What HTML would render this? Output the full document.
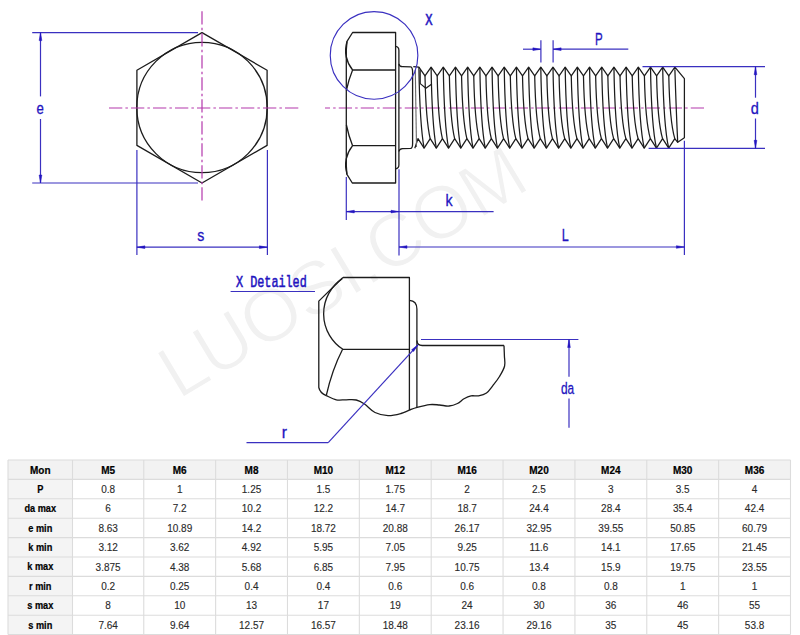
<!DOCTYPE html>
<html><head><meta charset="utf-8"><style>
html,body{margin:0;padding:0;background:#fff;width:800px;height:635px;overflow:hidden}
svg{display:block;font-family:"Liberation Sans",sans-serif}
</style></head><body>
<svg width="800" height="635" viewBox="0 0 800 635">
<rect width="800" height="635" fill="#fff"/>
<g transform="translate(178.5 400.3) rotate(-31)" font-family="Liberation Sans" font-size="75" letter-spacing="-1"><text x="0" y="0" fill="#000" fill-opacity="0.055">LUOSI.COM</text><text x="0" y="0" fill="none" stroke="#fff" stroke-width="1.3">LUOSI.COM</text></g>
<path d="M202.00,32.60 L267.10,70.20 L267.10,145.40 L202.00,183.00 L136.90,145.40 L136.90,70.20 Z" stroke="#1c1c1c" stroke-width="1.3" fill="none" stroke-linejoin="round" />
<circle cx="202.0" cy="107.5" r="65.2" stroke="#1c1c1c" stroke-width="1.3" fill="none"/>
<line x1="202.00" y1="11.30" x2="202.00" y2="202.00" stroke="#b438ac" stroke-width="1.2" stroke-dasharray="13.3 3.1 2.5 3.1"/>
<line x1="109.00" y1="108.00" x2="299.50" y2="108.00" stroke="#b438ac" stroke-width="1.2" stroke-dasharray="13.3 3.1 2.5 3.1"/>
<line x1="32.20" y1="32.60" x2="198.00" y2="32.60" stroke="#3a30c0" stroke-width="1.2" />
<line x1="32.20" y1="183.00" x2="198.00" y2="183.00" stroke="#3a30c0" stroke-width="1.2" />
<line x1="40.50" y1="32.60" x2="40.50" y2="96.40" stroke="#3a30c0" stroke-width="1.2" />
<line x1="40.50" y1="119.00" x2="40.50" y2="183.00" stroke="#3a30c0" stroke-width="1.2" />
<path d="M40.50,32.60 L41.85,40.60 L39.15,40.60 Z" fill="#2214c0" stroke="#2214c0" stroke-width="0.5"/>
<path d="M40.50,183.00 L39.15,175.00 L41.85,175.00 Z" fill="#2214c0" stroke="#2214c0" stroke-width="0.5"/>
<text x="40.15" y="114.2" font-size="16.5" fill="#2214c0" stroke="#2214c0" stroke-width="0.3" text-anchor="middle" transform="translate(40.15 0) scale(0.8 1) translate(-40.15 0)">e</text>
<line x1="136.90" y1="150.00" x2="136.90" y2="255.00" stroke="#3a30c0" stroke-width="1.2" />
<line x1="267.40" y1="150.00" x2="267.40" y2="255.00" stroke="#3a30c0" stroke-width="1.2" />
<line x1="136.90" y1="247.20" x2="267.40" y2="247.20" stroke="#3a30c0" stroke-width="1.2" />
<path d="M136.90,247.20 L144.90,245.85 L144.90,248.55 Z" fill="#2214c0" stroke="#2214c0" stroke-width="0.5"/>
<path d="M267.40,247.20 L259.40,248.55 L259.40,245.85 Z" fill="#2214c0" stroke="#2214c0" stroke-width="0.5"/>
<text x="200.85" y="241.2" font-size="16.5" fill="#2214c0" stroke="#2214c0" stroke-width="0.3" text-anchor="middle" transform="translate(200.85 0) scale(0.86 1) translate(-200.85 0)">s</text>
<line x1="325.00" y1="108.00" x2="705.00" y2="108.00" stroke="#b438ac" stroke-width="1.2" stroke-dasharray="13.3 3.1 2.5 3.1" stroke-dashoffset="8.25"/>
<path d="M352.6,32.5 L395.6,32.5 L395.6,183 L352.3,183 L346.8,174.2 L346.3,165 L346.3,50 L347,41.4 Z" stroke="#1c1c1c" stroke-width="1.3" fill="none" stroke-linejoin="round" />
<path d="M347,41.4 A32,32 0 0 0 352.6,70 L395.6,70" stroke="#1c1c1c" stroke-width="1.3" fill="none" stroke-linejoin="round" />
<path d="M352.6,70 Q348.5,80 346.4,90.4" stroke="#1c1c1c" stroke-width="1.3" fill="none" stroke-linejoin="round" />
<path d="M352.6,145.7 Q348.5,135.5 346.4,125" stroke="#1c1c1c" stroke-width="1.3" fill="none" stroke-linejoin="round" />
<path d="M347,174.2 A32,32 0 0 1 352.6,145.7 L395.6,145.7" stroke="#1c1c1c" stroke-width="1.3" fill="none" stroke-linejoin="round" />
<path d="M395.6,46.3 Q398.9,46.6 398.9,50.5 L398.9,164.8 Q398.9,168.5 395.6,168.8" stroke="#1c1c1c" stroke-width="1.3" fill="none" stroke-linejoin="round" />
<path d="M398.9,63.8 Q399.4,66.6 402.5,66.6 L410.8,66.8 Q412.6,67.8 412.6,72 L412.6,143.5 Q412.6,148.3 410.6,148.4 L402.5,148.6 Q399.4,148.8 398.9,151.5" stroke="#1c1c1c" stroke-width="1.3" fill="none" stroke-linejoin="round" />
<path d="M413.3,66.6 L418.90,67.2 L425.00,75.9 L431.09,67.2 L437.19,75.9 L443.28,67.2 L449.38,75.9 L455.47,67.2 L461.56,75.9 L467.66,67.2 L473.75,75.9 L479.85,67.2 L485.94,75.9 L492.04,67.2 L498.13,75.9 L504.23,67.2 L510.32,75.9 L516.42,67.2 L522.51,75.9 L528.61,67.2 L534.71,75.9 L540.80,67.2 L546.89,75.9 L552.99,67.2 L559.09,75.9 L565.18,67.2 L571.27,75.9 L577.37,67.2 L583.47,75.9 L589.56,67.2 L595.65,75.9 L601.75,67.2 L607.85,75.9 L613.94,67.2 L620.03,75.9 L626.13,67.2 L632.23,75.9 L638.32,67.2 L644.41,75.9 L650.51,67.2 L656.61,75.9 L662.70,67.2 L668.79,75.9 L674.89,67.2 L684.4,78.7 L684.4,137.8 L677.7,142.3 L674.79,138.6 L668.70,148.2 L662.60,138.6 L656.47,148.2 L650.37,138.6 L644.24,148.2 L638.14,138.6 L632.01,148.2 L625.91,138.6 L619.78,148.2 L613.68,138.6 L607.55,148.2 L601.45,138.6 L595.32,148.2 L589.22,138.6 L583.09,148.2 L576.99,138.6 L570.86,148.2 L564.76,138.6 L558.63,148.2 L552.53,138.6 L546.40,148.2 L540.30,138.6 L534.17,148.2 L528.07,138.6 L521.94,148.2 L515.85,138.6 L509.71,148.2 L503.61,138.6 L497.48,148.2 L491.38,138.6 L485.25,148.2 L479.15,138.6 L473.02,148.2 L466.92,138.6 L460.79,148.2 L454.69,138.6 L448.56,148.2 L442.46,138.6 L436.33,148.2 L430.23,138.6 L424.10,148.2 L418.00,138.6 L414.8,148.3" stroke="#1c1c1c" stroke-width="1.25" fill="none" stroke-linejoin="round" />
<path d="M418.90,67.2 C419.40,100 421.20,132 424.10,148.2" stroke="#1c1c1c" stroke-width="1.25" fill="none" stroke-linejoin="round" />
<path d="M431.09,67.2 C431.59,100 433.39,132 436.33,148.2" stroke="#1c1c1c" stroke-width="1.25" fill="none" stroke-linejoin="round" />
<path d="M443.28,67.2 C443.78,100 445.58,132 448.56,148.2" stroke="#1c1c1c" stroke-width="1.25" fill="none" stroke-linejoin="round" />
<path d="M455.47,67.2 C455.97,100 457.77,132 460.79,148.2" stroke="#1c1c1c" stroke-width="1.25" fill="none" stroke-linejoin="round" />
<path d="M467.66,67.2 C468.16,100 469.96,132 473.02,148.2" stroke="#1c1c1c" stroke-width="1.25" fill="none" stroke-linejoin="round" />
<path d="M479.85,67.2 C480.35,100 482.15,132 485.25,148.2" stroke="#1c1c1c" stroke-width="1.25" fill="none" stroke-linejoin="round" />
<path d="M492.04,67.2 C492.54,100 494.34,132 497.48,148.2" stroke="#1c1c1c" stroke-width="1.25" fill="none" stroke-linejoin="round" />
<path d="M504.23,67.2 C504.73,100 506.53,132 509.71,148.2" stroke="#1c1c1c" stroke-width="1.25" fill="none" stroke-linejoin="round" />
<path d="M516.42,67.2 C516.92,100 518.72,132 521.94,148.2" stroke="#1c1c1c" stroke-width="1.25" fill="none" stroke-linejoin="round" />
<path d="M528.61,67.2 C529.11,100 530.91,132 534.17,148.2" stroke="#1c1c1c" stroke-width="1.25" fill="none" stroke-linejoin="round" />
<path d="M540.80,67.2 C541.30,100 543.10,132 546.40,148.2" stroke="#1c1c1c" stroke-width="1.25" fill="none" stroke-linejoin="round" />
<path d="M552.99,67.2 C553.49,100 555.29,132 558.63,148.2" stroke="#1c1c1c" stroke-width="1.25" fill="none" stroke-linejoin="round" />
<path d="M565.18,67.2 C565.68,100 567.48,132 570.86,148.2" stroke="#1c1c1c" stroke-width="1.25" fill="none" stroke-linejoin="round" />
<path d="M577.37,67.2 C577.87,100 579.67,132 583.09,148.2" stroke="#1c1c1c" stroke-width="1.25" fill="none" stroke-linejoin="round" />
<path d="M589.56,67.2 C590.06,100 591.86,132 595.32,148.2" stroke="#1c1c1c" stroke-width="1.25" fill="none" stroke-linejoin="round" />
<path d="M601.75,67.2 C602.25,100 604.05,132 607.55,148.2" stroke="#1c1c1c" stroke-width="1.25" fill="none" stroke-linejoin="round" />
<path d="M613.94,67.2 C614.44,100 616.24,132 619.78,148.2" stroke="#1c1c1c" stroke-width="1.25" fill="none" stroke-linejoin="round" />
<path d="M626.13,67.2 C626.63,100 628.43,132 632.01,148.2" stroke="#1c1c1c" stroke-width="1.25" fill="none" stroke-linejoin="round" />
<path d="M638.32,67.2 C638.82,100 640.62,132 644.24,148.2" stroke="#1c1c1c" stroke-width="1.25" fill="none" stroke-linejoin="round" />
<path d="M650.51,67.2 C651.01,100 652.81,132 656.47,148.2" stroke="#1c1c1c" stroke-width="1.25" fill="none" stroke-linejoin="round" />
<path d="M662.70,67.2 C663.20,100 665.00,132 668.70,148.2" stroke="#1c1c1c" stroke-width="1.25" fill="none" stroke-linejoin="round" />
<path d="M674.89,69.2 Q676.09,108 677.7,142.3" stroke="#1c1c1c" stroke-width="1.25" fill="none" stroke-linejoin="round" />
<path d="M425.00,75.9 C425.50,100 427.30,126 430.19,138.6" stroke="#1c1c1c" stroke-width="1.25" fill="none" stroke-linejoin="round" />
<path d="M437.19,75.9 C437.69,100 439.49,126 442.43,138.6" stroke="#1c1c1c" stroke-width="1.25" fill="none" stroke-linejoin="round" />
<path d="M449.38,75.9 C449.88,100 451.68,126 454.65,138.6" stroke="#1c1c1c" stroke-width="1.25" fill="none" stroke-linejoin="round" />
<path d="M461.56,75.9 C462.06,100 463.87,126 466.88,138.6" stroke="#1c1c1c" stroke-width="1.25" fill="none" stroke-linejoin="round" />
<path d="M473.75,75.9 C474.25,100 476.06,126 479.12,138.6" stroke="#1c1c1c" stroke-width="1.25" fill="none" stroke-linejoin="round" />
<path d="M485.94,75.9 C486.44,100 488.25,126 491.34,138.6" stroke="#1c1c1c" stroke-width="1.25" fill="none" stroke-linejoin="round" />
<path d="M498.13,75.9 C498.63,100 500.44,126 503.57,138.6" stroke="#1c1c1c" stroke-width="1.25" fill="none" stroke-linejoin="round" />
<path d="M510.32,75.9 C510.82,100 512.62,126 515.80,138.6" stroke="#1c1c1c" stroke-width="1.25" fill="none" stroke-linejoin="round" />
<path d="M522.51,75.9 C523.01,100 524.81,126 528.04,138.6" stroke="#1c1c1c" stroke-width="1.25" fill="none" stroke-linejoin="round" />
<path d="M534.71,75.9 C535.21,100 537.00,126 540.27,138.6" stroke="#1c1c1c" stroke-width="1.25" fill="none" stroke-linejoin="round" />
<path d="M546.89,75.9 C547.39,100 549.19,126 552.50,138.6" stroke="#1c1c1c" stroke-width="1.25" fill="none" stroke-linejoin="round" />
<path d="M559.09,75.9 C559.59,100 561.38,126 564.73,138.6" stroke="#1c1c1c" stroke-width="1.25" fill="none" stroke-linejoin="round" />
<path d="M571.27,75.9 C571.77,100 573.57,126 576.96,138.6" stroke="#1c1c1c" stroke-width="1.25" fill="none" stroke-linejoin="round" />
<path d="M583.47,75.9 C583.97,100 585.76,126 589.19,138.6" stroke="#1c1c1c" stroke-width="1.25" fill="none" stroke-linejoin="round" />
<path d="M595.65,75.9 C596.15,100 597.95,126 601.41,138.6" stroke="#1c1c1c" stroke-width="1.25" fill="none" stroke-linejoin="round" />
<path d="M607.85,75.9 C608.35,100 610.14,126 613.65,138.6" stroke="#1c1c1c" stroke-width="1.25" fill="none" stroke-linejoin="round" />
<path d="M620.03,75.9 C620.53,100 622.33,126 625.88,138.6" stroke="#1c1c1c" stroke-width="1.25" fill="none" stroke-linejoin="round" />
<path d="M632.23,75.9 C632.73,100 634.52,126 638.11,138.6" stroke="#1c1c1c" stroke-width="1.25" fill="none" stroke-linejoin="round" />
<path d="M644.41,75.9 C644.91,100 646.71,126 650.34,138.6" stroke="#1c1c1c" stroke-width="1.25" fill="none" stroke-linejoin="round" />
<path d="M656.61,75.9 C657.11,100 658.90,126 662.57,138.6" stroke="#1c1c1c" stroke-width="1.25" fill="none" stroke-linejoin="round" />
<path d="M668.79,75.9 C669.29,100 671.09,126 674.79,138.6" stroke="#1c1c1c" stroke-width="1.25" fill="none" stroke-linejoin="round" />
<path d="M415.3,70 L416.5,147" stroke="#666" stroke-width="1.1" fill="none" stroke-linejoin="round" />
<path d="M420.2,70 L420.2,83.6 L425.9,88.3 L431.8,83.9" stroke="#1c1c1c" stroke-width="1.2" fill="none" stroke-linejoin="round" />
<circle cx="374.05" cy="55.4" r="43.8" stroke="#3a30c0" stroke-width="1.15" fill="none"/>
<text x="429" y="24.8" font-size="17" fill="#2214c0" stroke="#2214c0" stroke-width="0.55" text-anchor="middle" font-family="Liberation Mono" transform="translate(429 0) scale(0.72 1) translate(-429 0)">X</text>
<line x1="523.00" y1="49.20" x2="540.90" y2="49.20" stroke="#3a30c0" stroke-width="1.2" />
<path d="M540.90,49.20 L532.90,50.55 L532.90,47.85 Z" fill="#2214c0" stroke="#2214c0" stroke-width="0.5"/>
<line x1="540.90" y1="40.30" x2="540.90" y2="62.60" stroke="#3a30c0" stroke-width="1.2" />
<line x1="553.10" y1="40.30" x2="553.10" y2="62.60" stroke="#3a30c0" stroke-width="1.2" />
<line x1="553.10" y1="49.20" x2="628.30" y2="49.20" stroke="#3a30c0" stroke-width="1.2" />
<path d="M553.10,49.20 L561.10,47.85 L561.10,50.55 Z" fill="#2214c0" stroke="#2214c0" stroke-width="0.5"/>
<text x="598.9" y="44.6" font-size="16.5" fill="#2214c0" stroke="#2214c0" stroke-width="0.3" text-anchor="middle" transform="translate(598.9 0) scale(0.7 1) translate(-598.9 0)">P</text>
<line x1="642.50" y1="66.70" x2="765.00" y2="66.70" stroke="#3a30c0" stroke-width="1.2" />
<line x1="648.60" y1="148.30" x2="765.00" y2="148.30" stroke="#3a30c0" stroke-width="1.2" />
<line x1="755.50" y1="66.70" x2="755.50" y2="97.70" stroke="#3a30c0" stroke-width="1.2" />
<line x1="755.50" y1="118.50" x2="755.50" y2="148.30" stroke="#3a30c0" stroke-width="1.2" />
<path d="M755.50,66.70 L756.85,74.70 L754.15,74.70 Z" fill="#2214c0" stroke="#2214c0" stroke-width="0.5"/>
<path d="M755.50,148.30 L754.15,140.30 L756.85,140.30 Z" fill="#2214c0" stroke="#2214c0" stroke-width="0.5"/>
<text x="754.9" y="114.1" font-size="16.5" fill="#2214c0" stroke="#2214c0" stroke-width="0.3" text-anchor="middle" transform="translate(754.9 0) scale(0.88 1) translate(-754.9 0)">d</text>
<line x1="346.30" y1="177.00" x2="346.30" y2="220.00" stroke="#3a30c0" stroke-width="1.2" />
<line x1="399.00" y1="169.30" x2="399.00" y2="255.50" stroke="#3a30c0" stroke-width="1.2" />
<line x1="346.30" y1="211.60" x2="493.60" y2="211.60" stroke="#3a30c0" stroke-width="1.2" />
<path d="M346.30,211.60 L354.30,210.25 L354.30,212.95 Z" fill="#2214c0" stroke="#2214c0" stroke-width="0.5"/>
<path d="M399.00,211.60 L391.00,212.95 L391.00,210.25 Z" fill="#2214c0" stroke="#2214c0" stroke-width="0.5"/>
<text x="449" y="205.9" font-size="16.5" fill="#2214c0" stroke="#2214c0" stroke-width="0.3" text-anchor="middle" transform="translate(449 0) scale(0.86 1) translate(-449 0)">k</text>
<line x1="684.40" y1="140.80" x2="684.40" y2="255.00" stroke="#3a30c0" stroke-width="1.2" />
<line x1="399.00" y1="247.00" x2="684.40" y2="247.00" stroke="#3a30c0" stroke-width="1.2" />
<path d="M399.00,247.00 L407.00,245.65 L407.00,248.35 Z" fill="#2214c0" stroke="#2214c0" stroke-width="0.5"/>
<path d="M684.40,247.00 L676.40,248.35 L676.40,245.65 Z" fill="#2214c0" stroke="#2214c0" stroke-width="0.5"/>
<text x="565.25" y="241.1" font-size="16.5" fill="#2214c0" stroke="#2214c0" stroke-width="0.3" text-anchor="middle" transform="translate(565.25 0) scale(0.76 1) translate(-565.25 0)">L</text>
<text x="236" y="287" font-size="17" fill="#2214c0" stroke="#2214c0" stroke-width="0.55" font-family="Liberation Mono" transform="translate(236 0) scale(0.694 1) translate(-236 0)">X Detailed</text>
<line x1="230.60" y1="291.50" x2="315.00" y2="291.50" stroke="#3a30c0" stroke-width="1.2" />
<path d="M342.9,277.5 L409.4,277.5 L409.4,410.1" stroke="#1c1c1c" stroke-width="1.3" fill="none" stroke-linejoin="round" />
<path d="M342.9,277.5 L318.8,301.1 L318.8,387.5 Q320,393 326.25,395.6" stroke="#1c1c1c" stroke-width="1.3" fill="none" stroke-linejoin="round" />
<path d="M342.2,278.6 A42.5,42.5 0 0 0 342.9,349.3 L409.4,349.3" stroke="#1c1c1c" stroke-width="1.3" fill="none" stroke-linejoin="round" />
<path d="M342.6,349.3 Q332,370 326.25,395.6" stroke="#1c1c1c" stroke-width="1.3" fill="none" stroke-linejoin="round" />
<path d="M409.4,300.3 Q416.9,300.8 416.9,309 L416.9,407.4" stroke="#1c1c1c" stroke-width="1.3" fill="none" stroke-linejoin="round" />
<path d="M416.9,340.5 Q417.2,345.5 422.2,345.5 L504,345.5" stroke="#1c1c1c" stroke-width="1.3" fill="none" stroke-linejoin="round" />
<path d="M504.00,345.50 C504.07,347.25 504.30,352.58 504.40,356.00 C504.50,359.42 505.42,362.58 504.60,366.00 C503.78,369.42 501.43,373.27 499.50,376.50 C497.57,379.73 495.17,382.65 493.00,385.40 C490.83,388.15 488.92,391.27 486.50,393.00 C484.08,394.73 481.08,395.32 478.50,395.80 C475.92,396.28 473.42,395.40 471.00,395.90 C468.58,396.40 466.25,397.53 464.00,398.80 C461.75,400.07 460.00,402.30 457.50,403.50 C455.00,404.70 452.00,405.75 449.00,406.00 C446.00,406.25 442.70,405.23 439.50,405.00 C436.30,404.77 433.53,404.20 429.80,404.60 C426.07,405.00 420.50,406.48 417.10,407.40 C413.70,408.32 412.08,409.08 409.40,410.10 C406.72,411.12 404.57,412.58 401.00,413.50 C397.43,414.42 392.33,415.77 388.00,415.60 C383.67,415.43 378.92,414.43 375.00,412.50 C371.08,410.57 367.62,406.08 364.50,404.00 C361.38,401.92 359.33,400.70 356.25,400.00 C353.17,399.30 349.33,399.83 346.00,399.80 C342.67,399.77 339.54,400.50 336.25,399.80 C332.96,399.10 327.92,396.30 326.25,395.60" stroke="#1c1c1c" stroke-width="1.3" fill="none" stroke-linejoin="round" />
<line x1="421.00" y1="339.50" x2="578.40" y2="339.50" stroke="#3a30c0" stroke-width="1.2" />
<line x1="569.00" y1="339.50" x2="569.00" y2="376.70" stroke="#3a30c0" stroke-width="1.2" />
<line x1="569.00" y1="398.40" x2="569.00" y2="427.70" stroke="#3a30c0" stroke-width="1.2" />
<path d="M569.00,339.50 L570.35,347.50 L567.65,347.50 Z" fill="#2214c0" stroke="#2214c0" stroke-width="0.5"/>
<text x="567.5" y="394.0" font-size="16.5" fill="#2214c0" stroke="#2214c0" stroke-width="0.3" text-anchor="middle" transform="translate(567.5 0) scale(0.72 1) translate(-567.5 0)">da</text>
<line x1="246.50" y1="442.70" x2="328.20" y2="442.70" stroke="#3a30c0" stroke-width="1.2" />
<line x1="328.20" y1="442.70" x2="418.00" y2="344.80" stroke="#3a30c0" stroke-width="1.2" />
<path d="M418.00,344.80 L413.59,351.61 L411.60,349.78 Z" fill="#2214c0" stroke="#2214c0" stroke-width="0.5"/>
<text x="284.4" y="438.5" font-size="16.5" fill="#2214c0" stroke="#2214c0" stroke-width="0.3" text-anchor="middle" transform="translate(284.4 0) scale(0.95 1) translate(-284.4 0)">r</text>
<rect x="8.0" y="460.0" width="782.5" height="174.60000000000002" fill="#ffffff"/>
<rect x="8.0" y="460.0" width="782.5" height="19.399999999999977" fill="#f2f2f2"/>
<rect x="8.0" y="479.4" width="64.5" height="155.20000000000005" fill="#f4f4f4"/>
<line x1="8.00" y1="460.0" x2="8.00" y2="634.60" stroke="#dcdcdc" stroke-width="1.1"/>
<line x1="72.50" y1="460.0" x2="72.50" y2="634.60" stroke="#dcdcdc" stroke-width="1.1"/>
<line x1="143.76" y1="460.0" x2="143.76" y2="634.60" stroke="#dcdcdc" stroke-width="1.1"/>
<line x1="215.62" y1="460.0" x2="215.62" y2="634.60" stroke="#dcdcdc" stroke-width="1.1"/>
<line x1="287.48" y1="460.0" x2="287.48" y2="634.60" stroke="#dcdcdc" stroke-width="1.1"/>
<line x1="359.34" y1="460.0" x2="359.34" y2="634.60" stroke="#dcdcdc" stroke-width="1.1"/>
<line x1="431.20" y1="460.0" x2="431.20" y2="634.60" stroke="#dcdcdc" stroke-width="1.1"/>
<line x1="503.06" y1="460.0" x2="503.06" y2="634.60" stroke="#dcdcdc" stroke-width="1.1"/>
<line x1="574.92" y1="460.0" x2="574.92" y2="634.60" stroke="#dcdcdc" stroke-width="1.1"/>
<line x1="646.78" y1="460.0" x2="646.78" y2="634.60" stroke="#dcdcdc" stroke-width="1.1"/>
<line x1="718.64" y1="460.0" x2="718.64" y2="634.60" stroke="#dcdcdc" stroke-width="1.1"/>
<line x1="790.50" y1="460.0" x2="790.50" y2="634.60" stroke="#dcdcdc" stroke-width="1.1"/>
<line x1="8.0" y1="460.00" x2="790.50" y2="460.00" stroke="#dcdcdc" stroke-width="1.1"/>
<line x1="8.0" y1="479.40" x2="790.50" y2="479.40" stroke="#dcdcdc" stroke-width="1.1"/>
<line x1="8.0" y1="498.80" x2="790.50" y2="498.80" stroke="#dcdcdc" stroke-width="1.1"/>
<line x1="8.0" y1="518.20" x2="790.50" y2="518.20" stroke="#dcdcdc" stroke-width="1.1"/>
<line x1="8.0" y1="537.60" x2="790.50" y2="537.60" stroke="#dcdcdc" stroke-width="1.1"/>
<line x1="8.0" y1="557.00" x2="790.50" y2="557.00" stroke="#dcdcdc" stroke-width="1.1"/>
<line x1="8.0" y1="576.40" x2="790.50" y2="576.40" stroke="#dcdcdc" stroke-width="1.1"/>
<line x1="8.0" y1="595.80" x2="790.50" y2="595.80" stroke="#dcdcdc" stroke-width="1.1"/>
<line x1="8.0" y1="615.20" x2="790.50" y2="615.20" stroke="#dcdcdc" stroke-width="1.1"/>
<line x1="8.0" y1="634.60" x2="790.50" y2="634.60" stroke="#dcdcdc" stroke-width="1.1"/>
<text x="40.25" y="473.50" font-size="10" font-weight="bold" fill="#000" stroke="#000" stroke-width="0.2" text-anchor="middle">Mon</text>
<text x="108.13" y="473.50" font-size="10" font-weight="bold" fill="#000" stroke="#000" stroke-width="0.2" text-anchor="middle">M5</text>
<text x="179.69" y="473.50" font-size="10" font-weight="bold" fill="#000" stroke="#000" stroke-width="0.2" text-anchor="middle">M6</text>
<text x="251.55" y="473.50" font-size="10" font-weight="bold" fill="#000" stroke="#000" stroke-width="0.2" text-anchor="middle">M8</text>
<text x="323.41" y="473.50" font-size="10" font-weight="bold" fill="#000" stroke="#000" stroke-width="0.2" text-anchor="middle">M10</text>
<text x="395.27" y="473.50" font-size="10" font-weight="bold" fill="#000" stroke="#000" stroke-width="0.2" text-anchor="middle">M12</text>
<text x="467.13" y="473.50" font-size="10" font-weight="bold" fill="#000" stroke="#000" stroke-width="0.2" text-anchor="middle">M16</text>
<text x="538.99" y="473.50" font-size="10" font-weight="bold" fill="#000" stroke="#000" stroke-width="0.2" text-anchor="middle">M20</text>
<text x="610.85" y="473.50" font-size="10" font-weight="bold" fill="#000" stroke="#000" stroke-width="0.2" text-anchor="middle">M24</text>
<text x="682.71" y="473.50" font-size="10" font-weight="bold" fill="#000" stroke="#000" stroke-width="0.2" text-anchor="middle">M30</text>
<text x="754.57" y="473.50" font-size="10" font-weight="bold" fill="#000" stroke="#000" stroke-width="0.2" text-anchor="middle">M36</text>
<text x="40.25" y="492.90" font-size="10" font-weight="bold" fill="#000" stroke="#000" stroke-width="0.2" text-anchor="middle" transform="translate(40.25 0) scale(0.92 1) translate(-40.25 0)">P</text>
<text x="108.13" y="492.90" font-size="10" font-weight="normal" fill="#2a2a2a" stroke="#2a2a2a" stroke-width="0.12" text-anchor="middle">0.8</text>
<text x="179.69" y="492.90" font-size="10" font-weight="normal" fill="#2a2a2a" stroke="#2a2a2a" stroke-width="0.12" text-anchor="middle">1</text>
<text x="251.55" y="492.90" font-size="10" font-weight="normal" fill="#2a2a2a" stroke="#2a2a2a" stroke-width="0.12" text-anchor="middle">1.25</text>
<text x="323.41" y="492.90" font-size="10" font-weight="normal" fill="#2a2a2a" stroke="#2a2a2a" stroke-width="0.12" text-anchor="middle">1.5</text>
<text x="395.27" y="492.90" font-size="10" font-weight="normal" fill="#2a2a2a" stroke="#2a2a2a" stroke-width="0.12" text-anchor="middle">1.75</text>
<text x="467.13" y="492.90" font-size="10" font-weight="normal" fill="#2a2a2a" stroke="#2a2a2a" stroke-width="0.12" text-anchor="middle">2</text>
<text x="538.99" y="492.90" font-size="10" font-weight="normal" fill="#2a2a2a" stroke="#2a2a2a" stroke-width="0.12" text-anchor="middle">2.5</text>
<text x="610.85" y="492.90" font-size="10" font-weight="normal" fill="#2a2a2a" stroke="#2a2a2a" stroke-width="0.12" text-anchor="middle">3</text>
<text x="682.71" y="492.90" font-size="10" font-weight="normal" fill="#2a2a2a" stroke="#2a2a2a" stroke-width="0.12" text-anchor="middle">3.5</text>
<text x="754.57" y="492.90" font-size="10" font-weight="normal" fill="#2a2a2a" stroke="#2a2a2a" stroke-width="0.12" text-anchor="middle">4</text>
<text x="40.25" y="512.30" font-size="10" font-weight="bold" fill="#000" stroke="#000" stroke-width="0.2" text-anchor="middle" transform="translate(40.25 0) scale(0.92 1) translate(-40.25 0)">da max</text>
<text x="108.13" y="512.30" font-size="10" font-weight="normal" fill="#2a2a2a" stroke="#2a2a2a" stroke-width="0.12" text-anchor="middle">6</text>
<text x="179.69" y="512.30" font-size="10" font-weight="normal" fill="#2a2a2a" stroke="#2a2a2a" stroke-width="0.12" text-anchor="middle">7.2</text>
<text x="251.55" y="512.30" font-size="10" font-weight="normal" fill="#2a2a2a" stroke="#2a2a2a" stroke-width="0.12" text-anchor="middle">10.2</text>
<text x="323.41" y="512.30" font-size="10" font-weight="normal" fill="#2a2a2a" stroke="#2a2a2a" stroke-width="0.12" text-anchor="middle">12.2</text>
<text x="395.27" y="512.30" font-size="10" font-weight="normal" fill="#2a2a2a" stroke="#2a2a2a" stroke-width="0.12" text-anchor="middle">14.7</text>
<text x="467.13" y="512.30" font-size="10" font-weight="normal" fill="#2a2a2a" stroke="#2a2a2a" stroke-width="0.12" text-anchor="middle">18.7</text>
<text x="538.99" y="512.30" font-size="10" font-weight="normal" fill="#2a2a2a" stroke="#2a2a2a" stroke-width="0.12" text-anchor="middle">24.4</text>
<text x="610.85" y="512.30" font-size="10" font-weight="normal" fill="#2a2a2a" stroke="#2a2a2a" stroke-width="0.12" text-anchor="middle">28.4</text>
<text x="682.71" y="512.30" font-size="10" font-weight="normal" fill="#2a2a2a" stroke="#2a2a2a" stroke-width="0.12" text-anchor="middle">35.4</text>
<text x="754.57" y="512.30" font-size="10" font-weight="normal" fill="#2a2a2a" stroke="#2a2a2a" stroke-width="0.12" text-anchor="middle">42.4</text>
<text x="40.25" y="531.70" font-size="10" font-weight="bold" fill="#000" stroke="#000" stroke-width="0.2" text-anchor="middle" transform="translate(40.25 0) scale(0.92 1) translate(-40.25 0)">e min</text>
<text x="108.13" y="531.70" font-size="10" font-weight="normal" fill="#2a2a2a" stroke="#2a2a2a" stroke-width="0.12" text-anchor="middle">8.63</text>
<text x="179.69" y="531.70" font-size="10" font-weight="normal" fill="#2a2a2a" stroke="#2a2a2a" stroke-width="0.12" text-anchor="middle">10.89</text>
<text x="251.55" y="531.70" font-size="10" font-weight="normal" fill="#2a2a2a" stroke="#2a2a2a" stroke-width="0.12" text-anchor="middle">14.2</text>
<text x="323.41" y="531.70" font-size="10" font-weight="normal" fill="#2a2a2a" stroke="#2a2a2a" stroke-width="0.12" text-anchor="middle">18.72</text>
<text x="395.27" y="531.70" font-size="10" font-weight="normal" fill="#2a2a2a" stroke="#2a2a2a" stroke-width="0.12" text-anchor="middle">20.88</text>
<text x="467.13" y="531.70" font-size="10" font-weight="normal" fill="#2a2a2a" stroke="#2a2a2a" stroke-width="0.12" text-anchor="middle">26.17</text>
<text x="538.99" y="531.70" font-size="10" font-weight="normal" fill="#2a2a2a" stroke="#2a2a2a" stroke-width="0.12" text-anchor="middle">32.95</text>
<text x="610.85" y="531.70" font-size="10" font-weight="normal" fill="#2a2a2a" stroke="#2a2a2a" stroke-width="0.12" text-anchor="middle">39.55</text>
<text x="682.71" y="531.70" font-size="10" font-weight="normal" fill="#2a2a2a" stroke="#2a2a2a" stroke-width="0.12" text-anchor="middle">50.85</text>
<text x="754.57" y="531.70" font-size="10" font-weight="normal" fill="#2a2a2a" stroke="#2a2a2a" stroke-width="0.12" text-anchor="middle">60.79</text>
<text x="40.25" y="551.10" font-size="10" font-weight="bold" fill="#000" stroke="#000" stroke-width="0.2" text-anchor="middle" transform="translate(40.25 0) scale(0.92 1) translate(-40.25 0)">k min</text>
<text x="108.13" y="551.10" font-size="10" font-weight="normal" fill="#2a2a2a" stroke="#2a2a2a" stroke-width="0.12" text-anchor="middle">3.12</text>
<text x="179.69" y="551.10" font-size="10" font-weight="normal" fill="#2a2a2a" stroke="#2a2a2a" stroke-width="0.12" text-anchor="middle">3.62</text>
<text x="251.55" y="551.10" font-size="10" font-weight="normal" fill="#2a2a2a" stroke="#2a2a2a" stroke-width="0.12" text-anchor="middle">4.92</text>
<text x="323.41" y="551.10" font-size="10" font-weight="normal" fill="#2a2a2a" stroke="#2a2a2a" stroke-width="0.12" text-anchor="middle">5.95</text>
<text x="395.27" y="551.10" font-size="10" font-weight="normal" fill="#2a2a2a" stroke="#2a2a2a" stroke-width="0.12" text-anchor="middle">7.05</text>
<text x="467.13" y="551.10" font-size="10" font-weight="normal" fill="#2a2a2a" stroke="#2a2a2a" stroke-width="0.12" text-anchor="middle">9.25</text>
<text x="538.99" y="551.10" font-size="10" font-weight="normal" fill="#2a2a2a" stroke="#2a2a2a" stroke-width="0.12" text-anchor="middle">11.6</text>
<text x="610.85" y="551.10" font-size="10" font-weight="normal" fill="#2a2a2a" stroke="#2a2a2a" stroke-width="0.12" text-anchor="middle">14.1</text>
<text x="682.71" y="551.10" font-size="10" font-weight="normal" fill="#2a2a2a" stroke="#2a2a2a" stroke-width="0.12" text-anchor="middle">17.65</text>
<text x="754.57" y="551.10" font-size="10" font-weight="normal" fill="#2a2a2a" stroke="#2a2a2a" stroke-width="0.12" text-anchor="middle">21.45</text>
<text x="40.25" y="570.50" font-size="10" font-weight="bold" fill="#000" stroke="#000" stroke-width="0.2" text-anchor="middle" transform="translate(40.25 0) scale(0.92 1) translate(-40.25 0)">k max</text>
<text x="108.13" y="570.50" font-size="10" font-weight="normal" fill="#2a2a2a" stroke="#2a2a2a" stroke-width="0.12" text-anchor="middle">3.875</text>
<text x="179.69" y="570.50" font-size="10" font-weight="normal" fill="#2a2a2a" stroke="#2a2a2a" stroke-width="0.12" text-anchor="middle">4.38</text>
<text x="251.55" y="570.50" font-size="10" font-weight="normal" fill="#2a2a2a" stroke="#2a2a2a" stroke-width="0.12" text-anchor="middle">5.68</text>
<text x="323.41" y="570.50" font-size="10" font-weight="normal" fill="#2a2a2a" stroke="#2a2a2a" stroke-width="0.12" text-anchor="middle">6.85</text>
<text x="395.27" y="570.50" font-size="10" font-weight="normal" fill="#2a2a2a" stroke="#2a2a2a" stroke-width="0.12" text-anchor="middle">7.95</text>
<text x="467.13" y="570.50" font-size="10" font-weight="normal" fill="#2a2a2a" stroke="#2a2a2a" stroke-width="0.12" text-anchor="middle">10.75</text>
<text x="538.99" y="570.50" font-size="10" font-weight="normal" fill="#2a2a2a" stroke="#2a2a2a" stroke-width="0.12" text-anchor="middle">13.4</text>
<text x="610.85" y="570.50" font-size="10" font-weight="normal" fill="#2a2a2a" stroke="#2a2a2a" stroke-width="0.12" text-anchor="middle">15.9</text>
<text x="682.71" y="570.50" font-size="10" font-weight="normal" fill="#2a2a2a" stroke="#2a2a2a" stroke-width="0.12" text-anchor="middle">19.75</text>
<text x="754.57" y="570.50" font-size="10" font-weight="normal" fill="#2a2a2a" stroke="#2a2a2a" stroke-width="0.12" text-anchor="middle">23.55</text>
<text x="40.25" y="589.90" font-size="10" font-weight="bold" fill="#000" stroke="#000" stroke-width="0.2" text-anchor="middle" transform="translate(40.25 0) scale(0.92 1) translate(-40.25 0)">r min</text>
<text x="108.13" y="589.90" font-size="10" font-weight="normal" fill="#2a2a2a" stroke="#2a2a2a" stroke-width="0.12" text-anchor="middle">0.2</text>
<text x="179.69" y="589.90" font-size="10" font-weight="normal" fill="#2a2a2a" stroke="#2a2a2a" stroke-width="0.12" text-anchor="middle">0.25</text>
<text x="251.55" y="589.90" font-size="10" font-weight="normal" fill="#2a2a2a" stroke="#2a2a2a" stroke-width="0.12" text-anchor="middle">0.4</text>
<text x="323.41" y="589.90" font-size="10" font-weight="normal" fill="#2a2a2a" stroke="#2a2a2a" stroke-width="0.12" text-anchor="middle">0.4</text>
<text x="395.27" y="589.90" font-size="10" font-weight="normal" fill="#2a2a2a" stroke="#2a2a2a" stroke-width="0.12" text-anchor="middle">0.6</text>
<text x="467.13" y="589.90" font-size="10" font-weight="normal" fill="#2a2a2a" stroke="#2a2a2a" stroke-width="0.12" text-anchor="middle">0.6</text>
<text x="538.99" y="589.90" font-size="10" font-weight="normal" fill="#2a2a2a" stroke="#2a2a2a" stroke-width="0.12" text-anchor="middle">0.8</text>
<text x="610.85" y="589.90" font-size="10" font-weight="normal" fill="#2a2a2a" stroke="#2a2a2a" stroke-width="0.12" text-anchor="middle">0.8</text>
<text x="682.71" y="589.90" font-size="10" font-weight="normal" fill="#2a2a2a" stroke="#2a2a2a" stroke-width="0.12" text-anchor="middle">1</text>
<text x="754.57" y="589.90" font-size="10" font-weight="normal" fill="#2a2a2a" stroke="#2a2a2a" stroke-width="0.12" text-anchor="middle">1</text>
<text x="40.25" y="609.30" font-size="10" font-weight="bold" fill="#000" stroke="#000" stroke-width="0.2" text-anchor="middle" transform="translate(40.25 0) scale(0.92 1) translate(-40.25 0)">s max</text>
<text x="108.13" y="609.30" font-size="10" font-weight="normal" fill="#2a2a2a" stroke="#2a2a2a" stroke-width="0.12" text-anchor="middle">8</text>
<text x="179.69" y="609.30" font-size="10" font-weight="normal" fill="#2a2a2a" stroke="#2a2a2a" stroke-width="0.12" text-anchor="middle">10</text>
<text x="251.55" y="609.30" font-size="10" font-weight="normal" fill="#2a2a2a" stroke="#2a2a2a" stroke-width="0.12" text-anchor="middle">13</text>
<text x="323.41" y="609.30" font-size="10" font-weight="normal" fill="#2a2a2a" stroke="#2a2a2a" stroke-width="0.12" text-anchor="middle">17</text>
<text x="395.27" y="609.30" font-size="10" font-weight="normal" fill="#2a2a2a" stroke="#2a2a2a" stroke-width="0.12" text-anchor="middle">19</text>
<text x="467.13" y="609.30" font-size="10" font-weight="normal" fill="#2a2a2a" stroke="#2a2a2a" stroke-width="0.12" text-anchor="middle">24</text>
<text x="538.99" y="609.30" font-size="10" font-weight="normal" fill="#2a2a2a" stroke="#2a2a2a" stroke-width="0.12" text-anchor="middle">30</text>
<text x="610.85" y="609.30" font-size="10" font-weight="normal" fill="#2a2a2a" stroke="#2a2a2a" stroke-width="0.12" text-anchor="middle">36</text>
<text x="682.71" y="609.30" font-size="10" font-weight="normal" fill="#2a2a2a" stroke="#2a2a2a" stroke-width="0.12" text-anchor="middle">46</text>
<text x="754.57" y="609.30" font-size="10" font-weight="normal" fill="#2a2a2a" stroke="#2a2a2a" stroke-width="0.12" text-anchor="middle">55</text>
<text x="40.25" y="628.70" font-size="10" font-weight="bold" fill="#000" stroke="#000" stroke-width="0.2" text-anchor="middle" transform="translate(40.25 0) scale(0.92 1) translate(-40.25 0)">s min</text>
<text x="108.13" y="628.70" font-size="10" font-weight="normal" fill="#2a2a2a" stroke="#2a2a2a" stroke-width="0.12" text-anchor="middle">7.64</text>
<text x="179.69" y="628.70" font-size="10" font-weight="normal" fill="#2a2a2a" stroke="#2a2a2a" stroke-width="0.12" text-anchor="middle">9.64</text>
<text x="251.55" y="628.70" font-size="10" font-weight="normal" fill="#2a2a2a" stroke="#2a2a2a" stroke-width="0.12" text-anchor="middle">12.57</text>
<text x="323.41" y="628.70" font-size="10" font-weight="normal" fill="#2a2a2a" stroke="#2a2a2a" stroke-width="0.12" text-anchor="middle">16.57</text>
<text x="395.27" y="628.70" font-size="10" font-weight="normal" fill="#2a2a2a" stroke="#2a2a2a" stroke-width="0.12" text-anchor="middle">18.48</text>
<text x="467.13" y="628.70" font-size="10" font-weight="normal" fill="#2a2a2a" stroke="#2a2a2a" stroke-width="0.12" text-anchor="middle">23.16</text>
<text x="538.99" y="628.70" font-size="10" font-weight="normal" fill="#2a2a2a" stroke="#2a2a2a" stroke-width="0.12" text-anchor="middle">29.16</text>
<text x="610.85" y="628.70" font-size="10" font-weight="normal" fill="#2a2a2a" stroke="#2a2a2a" stroke-width="0.12" text-anchor="middle">35</text>
<text x="682.71" y="628.70" font-size="10" font-weight="normal" fill="#2a2a2a" stroke="#2a2a2a" stroke-width="0.12" text-anchor="middle">45</text>
<text x="754.57" y="628.70" font-size="10" font-weight="normal" fill="#2a2a2a" stroke="#2a2a2a" stroke-width="0.12" text-anchor="middle">53.8</text>
</svg>
</body></html>
